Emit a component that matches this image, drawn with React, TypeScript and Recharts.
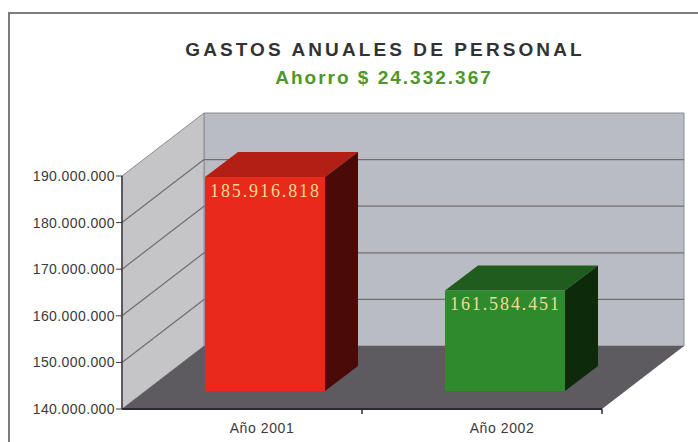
import { BarChart, Bar, XAxis, YAxis, ReferenceArea } from "recharts";

const categories = ["Año 2001", "Año 2002"];
const gastos = [185916818, 161584451];
const frontColors = ["#e8291b", "#2f8a2e"];
const topColors = ["#b31e15", "#1f5c1d"];
const sideColors = ["#4a0a08", "#0d2a0b"];
const yTicks = [140000000, 150000000, 160000000, 170000000, 180000000, 190000000];
const title = "GASTOS ANUALES DE PERSONAL";
const subtitle = "Ahorro $ 24.332.367";

const data = categories.map((name, i) => ({ name, gasto: gastos[i] }));

// 3d look: depth of the walls, offset of the bar front, depth of the bars
const DX = 82, DY = -63;
const BX = 23, BY = -18;
const BDX = 33, BDY = -25;

const fmt = (n: number) => String(n).replace(/\B(?=(\d{3})+(?!\d))/g, ".");
const pts = (p: number[][]) => p.map((q) => q.join(",")).join(" ");

function Walls(props: any) {
  const { x, y, width, height } = props;
  const bottom = y + height;
  const lo = yTicks[0];
  const hi = yTicks[yTicks.length - 1];
  const yOf = (v: number) => bottom - ((v - lo) / (hi - lo)) * height;
  return (
    <g>
      <polygon
        points={pts([[x + DX, y + DY], [x + width + DX, y + DY], [x + width + DX, bottom + DY], [x + DX, bottom + DY]])}
        fill="#babcc4"
        stroke="#8a8a90"
        strokeWidth={1}
      />
      <polygon
        points={pts([[x, y], [x + DX, y + DY], [x + DX, bottom + DY], [x, bottom]])}
        fill="#c5c5c8"
        stroke="#8a8a90"
        strokeWidth={1}
      />
      <polygon
        points={pts([[x, bottom], [x + width, bottom], [x + width + DX, bottom + DY], [x + DX, bottom + DY]])}
        fill="#5d5b60"
      />
      {yTicks.slice(1, -1).map((v) => {
        const yy = yOf(v);
        return (
          <g key={v} stroke="#6f6f74" strokeWidth={1.2}>
            <line x1={x} y1={yy} x2={x + DX} y2={yy + DY} />
            <line x1={x + DX} y1={yy + DY} x2={x + width + DX} y2={yy + DY} />
          </g>
        );
      })}
      <line x1={x + width / 2} y1={bottom} x2={x + width / 2} y2={bottom + 5} stroke="#2a2a36" strokeWidth={1.5} />
      <line x1={x + width} y1={bottom} x2={x + width} y2={bottom + 5} stroke="#2a2a36" strokeWidth={1.5} />
    </g>
  );
}

function Box(props: any) {
  const { x, y, width, height, index, payload } = props;
  const fx = x + BX;
  const fy = y + BY;
  const fb = fy + height;
  return (
    <g>
      <polygon
        points={pts([[fx, fy], [fx + width, fy], [fx + width + BDX, fy + BDY], [fx + BDX, fy + BDY]])}
        fill={topColors[index]}
      />
      <polygon
        points={pts([[fx + width, fy], [fx + width + BDX, fy + BDY], [fx + width + BDX, fb + BDY], [fx + width, fb]])}
        fill={sideColors[index]}
      />
      <rect x={fx} y={fy} width={width} height={height} fill={frontColors[index]} />
      <text
        x={fx + 5}
        y={fy + 20}
        fontFamily="Liberation Serif, serif"
        fontSize={18}
        letterSpacing={1.9}
        fill="#f4dc8e"
      >
        {fmt(payload.gasto)}
      </text>
    </g>
  );
}

function YTick(props: any) {
  const { x, y, payload } = props;
  return (
    <text
      x={x + 1}
      y={y + 5}
      textAnchor="end"
      fontFamily="Liberation Sans, Arial, sans-serif"
      fontSize={14}
      letterSpacing={0.4}
      fill="#3a3a3a"
    >
      {fmt(payload.value)}
    </text>
  );
}

function XTick(props: any) {
  const { x, y, payload } = props;
  return (
    <text
      x={x + 20}
      y={y + 16}
      textAnchor="middle"
      fontFamily="Liberation Sans, Arial, sans-serif"
      fontSize={14}
      letterSpacing={0.6}
      fill="#3a3a3a"
    >
      {payload.value}
    </text>
  );
}

export default function App() {
  return (
    <div style={{ position: "absolute", left: 0, top: 0, width: 698, height: 442, background: "#fff" }}>
      <svg width={698} height={442} style={{ position: "absolute", left: 0, top: 0 }}>
        <rect x={9} y={13} width={700} height={440} fill="#fff" stroke="#7a7f7a" strokeWidth={2} />
        <text
          x={385}
          y={56}
          textAnchor="middle"
          fontFamily="Liberation Sans, Arial, sans-serif"
          fontWeight="bold"
          fontSize={19}
          letterSpacing={3.1}
          fill="#333"
        >
          {title}
        </text>
        <text
          x={384}
          y={84}
          textAnchor="middle"
          fontFamily="Liberation Sans, Arial, sans-serif"
          fontWeight="bold"
          fontSize={19}
          letterSpacing={2}
          fill="#4f962c"
        >
          {subtitle}
        </text>
      </svg>
      <div style={{ position: "absolute", left: 0, top: 0 }}>
        <BarChart
          width={698}
          height={442}
          data={data}
          margin={{ top: 176, right: 96, bottom: 3, left: 8 }}
          barCategoryGap="25%"
        >
          <XAxis
            dataKey="name"
            height={30}
            tickLine={false}
            axisLine={{ stroke: "#2a2a36", strokeWidth: 2 }}
            tick={<XTick />}
          />
          <YAxis
            width={114}
            domain={[yTicks[0], yTicks[yTicks.length - 1]]}
            ticks={yTicks}
            interval={0}
            tickSize={6}
            tickLine={{ stroke: "#3a3a48" }}
            axisLine={{ stroke: "#3a3a48", strokeWidth: 1.5 }}
            tick={<YTick />}
          />
          <ReferenceArea y1={yTicks[0]} y2={yTicks[yTicks.length - 1]} shape={<Walls />} ifOverflow="visible" />
          <Bar dataKey="gasto" shape={<Box />} isAnimationActive={false} />
        </BarChart>
      </div>
    </div>
  );
}
